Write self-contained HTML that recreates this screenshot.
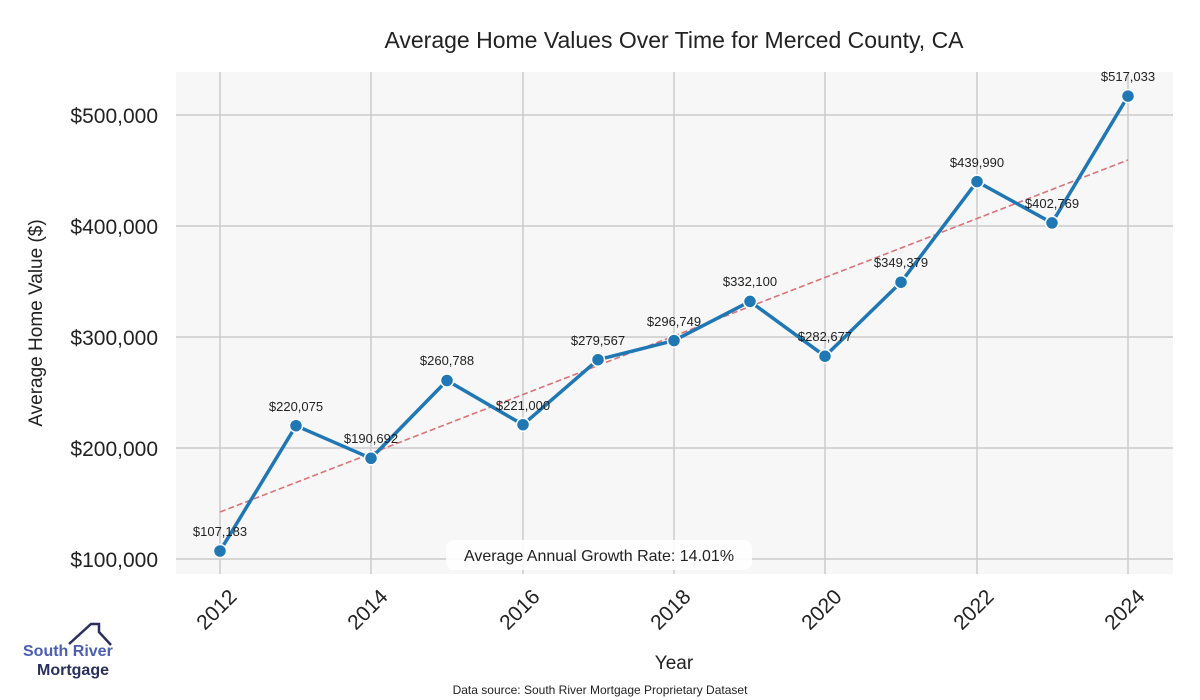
<!DOCTYPE html>
<html><head><meta charset="utf-8"><style>body{margin:0;background:#fff}svg{display:block}text{font-family:"Liberation Sans",sans-serif}</style></head>
<body>
<svg width="1200" height="700" viewBox="0 0 1200 700">
<rect x="176" y="72" width="997" height="502" fill="#f7f7f7"/>
<g stroke="#cccccc" stroke-width="1.5">
<line x1="220" y1="72" x2="220" y2="574"/><line x1="371" y1="72" x2="371" y2="574"/><line x1="523" y1="72" x2="523" y2="574"/><line x1="674" y1="72" x2="674" y2="574"/><line x1="825" y1="72" x2="825" y2="574"/><line x1="977" y1="72" x2="977" y2="574"/><line x1="1128" y1="72" x2="1128" y2="574"/>
<line x1="176" y1="115" x2="1173" y2="115"/><line x1="176" y1="226" x2="1173" y2="226"/><line x1="176" y1="337" x2="1173" y2="337"/><line x1="176" y1="448" x2="1173" y2="448"/><line x1="176" y1="559" x2="1173" y2="559"/>
</g>
<g font-size="21" fill="#222" text-anchor="end">
<text x="158" y="123">$500,000</text><text x="158" y="234">$400,000</text><text x="158" y="345">$300,000</text><text x="158" y="456">$200,000</text><text x="158" y="567">$100,000</text>
</g>
<g font-size="21" fill="#222" text-anchor="end">
<text transform="translate(238,598) rotate(-45)">2012</text>
<text transform="translate(389,598) rotate(-45)">2014</text>
<text transform="translate(541,598) rotate(-45)">2016</text>
<text transform="translate(692,598) rotate(-45)">2018</text>
<text transform="translate(843,598) rotate(-45)">2020</text>
<text transform="translate(995,598) rotate(-45)">2022</text>
<text transform="translate(1146,598) rotate(-45)">2024</text>
</g>
<text x="674" y="48" font-size="23" fill="#222" text-anchor="middle">Average Home Values Over Time for Merced County, CA</text>
<text x="674" y="669" font-size="19" fill="#222" text-anchor="middle">Year</text>
<text transform="translate(42,323) rotate(-90)" font-size="19" fill="#222" text-anchor="middle">Average Home Value ($)</text>
<text x="600" y="694" font-size="12" fill="#222" text-anchor="middle">Data source: South River Mortgage Proprietary Dataset</text>
<line x1="220" y1="512" x2="1128" y2="160" stroke="#d9737a" stroke-width="1.6" stroke-dasharray="6,3"/>
<polyline fill="none" stroke="#1f77b4" stroke-width="3.5" stroke-linejoin="round" points="220,551 296,425.7 371,458.3 447,380.5 523,424.7 598,359.7 674,340.6 750,301.4 825,356.2 901,282.2 977,181.6 1052,222.9 1128,96.1"/>
<g fill="#1f77b4" stroke="#fff" stroke-width="1.5">
<circle cx="220" cy="551" r="6.5"/><circle cx="296" cy="425.7" r="6.5"/><circle cx="371" cy="458.3" r="6.5"/><circle cx="447" cy="380.5" r="6.5"/><circle cx="523" cy="424.7" r="6.5"/><circle cx="598" cy="359.7" r="6.5"/><circle cx="674" cy="340.6" r="6.5"/><circle cx="750" cy="301.4" r="6.5"/><circle cx="825" cy="356.2" r="6.5"/><circle cx="901" cy="282.2" r="6.5"/><circle cx="977" cy="181.6" r="6.5"/><circle cx="1052" cy="222.9" r="6.5"/><circle cx="1128" cy="96.1" r="6.5"/>
</g>
<g font-size="13" fill="#222" text-anchor="middle">
<text x="220" y="536">$107,183</text><text x="296" y="411">$220,075</text><text x="371" y="443">$190,692</text><text x="447" y="365">$260,788</text><text x="523" y="410">$221,000</text><text x="598" y="345">$279,567</text><text x="674" y="326">$296,749</text><text x="750" y="286">$332,100</text><text x="825" y="341">$282,677</text><text x="901" y="267">$349,379</text><text x="977" y="167">$439,990</text><text x="1052" y="208">$402,769</text><text x="1128" y="81">$517,033</text>
</g>
<rect x="446" y="540" width="306" height="30" rx="8" fill="#fff" opacity="0.85"/>
<text x="599" y="561" font-size="16" fill="#222" text-anchor="middle">Average Annual Growth Rate: 14.01%</text>
<polyline points="69,644 91,624 99,624 99,632 111,645" fill="none" stroke="#2a2f5e" stroke-width="2.5"/>
<text x="23" y="656" font-size="16" font-weight="bold" fill="#4a5fb0">South River</text>
<text x="37" y="675" font-size="16" font-weight="bold" fill="#2a2f5e">Mortgage</text>
</svg>
</body></html>
